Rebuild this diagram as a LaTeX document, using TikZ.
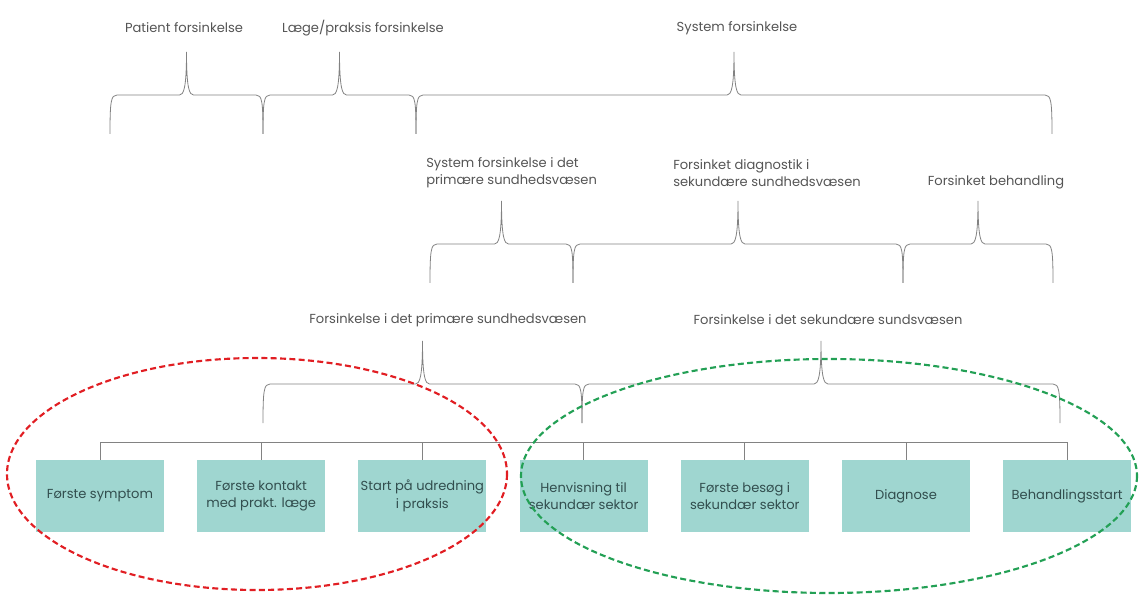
\documentclass[tikz,border=0pt]{standalone}
\usepackage{fontspec}
\setmainfont{Poppins}
\usetikzlibrary{positioning}
\definecolor{boxfill}{RGB}{159,214,208}
\definecolor{boxtext}{RGB}{50,78,78}
\definecolor{labtext}{RGB}{85,85,85}
\definecolor{brcline}{RGB}{130,130,130}
\definecolor{redring}{RGB}{225,30,35}
\definecolor{greenring}{RGB}{35,160,85}
% brace with downward ends and an upward tip in the middle
\newcommand{\spanbrace}[3]{%
 \pgfmathsetmacro\xm{(#1+#2)/2}%
 \draw[brc](#1,#3+39) .. controls (#1,#3+6) and (#1+1,#3) .. (#1+7,#3) -- (\xm-7,#3)
  .. controls (\xm-3,#3) and (\xm,#3-6) .. (\xm,#3-43)
  .. controls (\xm,#3-6) and (\xm+3,#3) .. (\xm+7,#3) -- (#2-7,#3)
  .. controls (#2-1,#3) and (#2,#3+6) .. (#2,#3+39);}

\begin{document}
\begin{tikzpicture}[x=0.75pt,y=-0.75pt,node distance=24.5pt,
 every node/.style={font=\fontsize{9.8}{13}\selectfont},
 box/.style={fill=boxfill,text=boxtext,align=center,minimum width=96pt,minimum height=54pt,inner sep=0.5pt},
 lab/.style={text=labtext,align=left,inner sep=0pt},
 brc/.style={draw=brcline,line width=0.6pt},
 ring/.style={dashed,line width=1.6pt,dash pattern=on 4.5pt off 2.5pt}]
\useasboundingbox(0,0) rectangle (1139,595);
% labels
\node[lab](pf) at (184,28){Patient forsinkelse};
\node[lab](lf) at (363,28){Læge/praksis forsinkelse};
\node[lab](sf) at (737,28){System forsinkelse};
\node[lab,anchor=west](sp) at (426,173){System forsinkelse i det\\primære sundhedsvæsen};
\node[lab,anchor=west](fd) at (673,173){Forsinket diagnostik i\\sekundære sundhedsvæsen};
\node[lab](fb) at (996,182){Forsinket behandling};
\node[lab](fp) at (448,320){Forsinkelse i det primære sundhedsvæsen};
\node[lab](fs) at (828,320){Forsinkelse i det sekundære sundsvæsen};
% braces
\spanbrace{110}{263}{95}\spanbrace{263}{416}{95}\spanbrace{416}{1052}{95}
\spanbrace{430}{573}{244}\spanbrace{573}{903}{244}\spanbrace{903}{1053}{244}
\spanbrace{263}{582}{384}\spanbrace{582}{1060}{384}
% steps
\node[box](s1) at (100,496){Første symptom};
\node[box,right=of s1](s2){Første kontakt\\med prakt. læge};
\node[box,right=of s2](s3){Start på udredning\\i praksis};
\node[box,right=of s3](s4){Henvisning til\\sekundær sektor};
\node[box,right=of s4](s5){Første besøg i\\sekundær sektor};
\node[box,right=of s5](s6){Diagnose};
\node[box,right=of s6](s7){Behandlingsstart};
\draw[brc](s1.north) -- ++(0,-17) -| (s7.north);
\foreach \s in {s2,s3,s4,s5,s6}{\draw[brc](\s.north) -- ++(0,-17);}
% groups
\draw[ring,redring](257,474) ellipse [x radius=250,y radius=116];
\draw[ring,greenring](829,476) ellipse [x radius=308,y radius=117];
\end{tikzpicture}
\end{document}
